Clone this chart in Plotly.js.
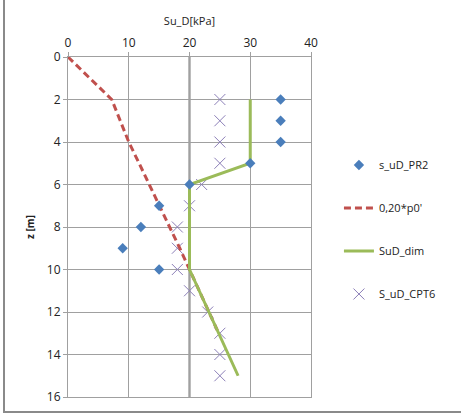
<!DOCTYPE html>
<html>
<head>
<meta charset="utf-8">
<script src="https://cdn.plot.ly/plotly-3.0.1.min.js"></script>
<style>
  html, body { margin: 0; padding: 0; background: #fff; }
  #wrap { position: relative; width: 461px; height: 416px; }
  #chart { width: 461px; height: 416px; }
  #bl { position: absolute; left: 3px; top: 0; width: 2px; height: 413px; background: #8a8a8a; }
  #bb { position: absolute; left: 3px; top: 411px; width: 458px; height: 2px; background: #8a8a8a; }
</style>
</head>
<body>
<div id="wrap">
  <div id="chart"></div>
  <div id="bl"></div>
  <div id="bb"></div>
</div>
<script>
// s_uD_PR2
const pr2Su = [35, 35, 35, 30, 20, 15, 12, 9, 15];
const pr2Z  = [2, 3, 4, 5, 6, 7, 8, 9, 10];

// 0,20*p0'
const p0Su = [0, 3.6, 7.2, 8.6, 10, 11.7, 13.4, 15.1, 16.8, 18.4, 20, 21.6, 23.2, 24.8];
const p0Z  = [0, 1, 2, 3, 4, 5, 6, 7, 8, 9, 10, 11, 12, 13];

// SuD_dim
const dimSu = [30, 30, 20, 20, 28];
const dimZ  = [2, 5, 6, 10, 15];

// S_uD_CPT6
const cptSu = [25, 25, 25, 25, 22, 20, 18, 18, 18, 20, 23, 25, 25, 25];
const cptZ  = [2, 3, 4, 5, 6, 7, 8, 9, 10, 11, 12, 13, 14, 15];

const xTicks = [0, 10, 20, 30, 40];
const yTicks = [0, 2, 4, 6, 8, 10, 12, 14, 16];

const font = "'Open Sans', 'DejaVu Sans', sans-serif";

const cpt = {
  x: cptSu, y: cptZ, name: 'S_uD_CPT6', mode: 'markers', type: 'scatter',
  marker: { symbol: 'x-thin', size: 11, line: { color: '#8c7fb8', width: 1 } },
  legendgroup: 'd', legendrank: 4
};
const p0 = {
  x: p0Su, y: p0Z, name: "0,20*p0'", mode: 'lines', type: 'scatter',
  line: { color: '#c0504d', width: 3, dash: '7px,4px' },
  legendgroup: 'b', legendrank: 2
};
const dim = {
  x: dimSu, y: dimZ, name: 'SuD_dim', mode: 'lines', type: 'scatter',
  line: { color: '#9bbb59', width: 3 },
  legendgroup: 'c', legendrank: 3
};
const pr2 = {
  x: pr2Su, y: pr2Z, name: 's_uD_PR2', mode: 'markers', type: 'scatter',
  marker: { symbol: 'diamond', size: 8, color: '#4a7ebb' },
  legendgroup: 'a', legendrank: 1
};

const layout = {
  width: 461, height: 416,
  margin: { l: 68, r: 150, t: 57, b: 19 },
  paper_bgcolor: '#fff', plot_bgcolor: '#fff',
  font: { family: font, size: 11, color: '#222' },
  showlegend: true,
  legend: {
    x: 1.115, xanchor: 'left', y: 0.725, yanchor: 'top',
    tracegroupgap: 24, itemwidth: 30,
    font: { family: font, size: 11, color: '#222' },
    traceorder: 'grouped'
  },
  xaxis: {
    side: 'top', range: [0, 40], tickvals: xTicks, ticktext: xTicks.map(String),
    showgrid: true, gridcolor: '#a0a0a0', gridwidth: 1,
    zeroline: false, showline: true, linecolor: '#a0a0a0', mirror: true,
    ticks: 'outside', ticklen: 4, tickcolor: '#a0a0a0',
    tickfont: { family: font, size: 12, color: '#222' },
    title: { text: 'Su_D[kPa]', font: { family: font, size: 11, color: '#222' }, standoff: 6 }
  },
  yaxis: {
    range: [16, 0], tickvals: yTicks, ticktext: yTicks.map(String),
    showgrid: true, gridcolor: '#a0a0a0', gridwidth: 1,
    zeroline: false, showline: true, linecolor: '#a0a0a0', mirror: true,
    ticks: 'outside', ticklen: 4, tickcolor: '#a0a0a0',
    tickfont: { family: font, size: 12, color: '#222' },
    title: { text: '<b>z [m]</b>', font: { family: font, size: 10, color: '#222' }, standoff: 10 }
  },
  shapes: [
    { type: 'line', xref: 'x', yref: 'paper', x0: 20, x1: 20, y0: 0, y1: 1,
      line: { color: '#7a7a7a', width: 2 }, layer: 'below' }
  ]
};

Plotly.newPlot('chart', [cpt, p0, dim, pr2], layout, { displayModeBar: false, staticPlot: true });
</script>
</body>
</html>
